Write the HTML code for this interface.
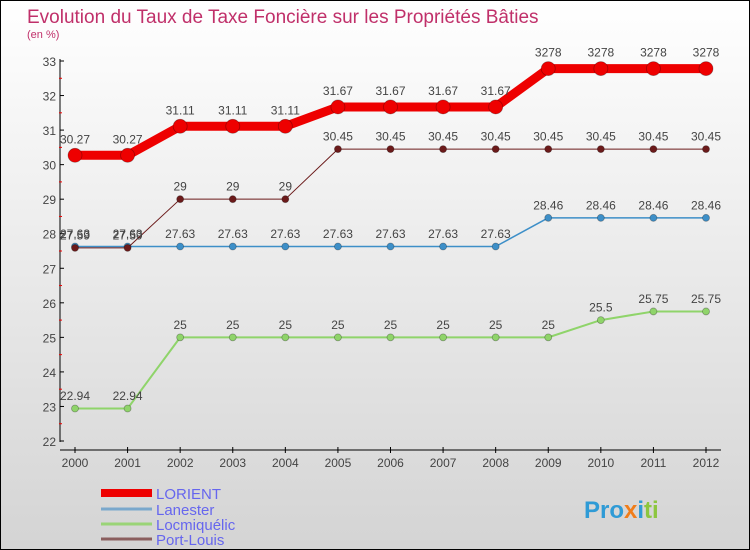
<!DOCTYPE html>
<html><head><meta charset="utf-8"><style>
body{margin:0}
#c{width:750px;height:550px;position:relative;box-sizing:border-box;border:1px solid #000;background:linear-gradient(#fff,#d4d4d4);font-family:"Liberation Sans",sans-serif;overflow:hidden}
</style></head><body>
<div id="c">
<svg id="s" width="748" height="548" style="position:absolute;left:0;top:0">
<text x="26" y="22" font-size="19" fill="#c0306a">Evolution du Taux de Taxe Foncière sur les Propriétés Bâties</text>
<text x="26" y="37" font-size="11" fill="#c0306a">(en %)</text>
</svg>
</div>
<script>
const years=["2000","2001","2002","2003","2004","2005","2006","2007","2008","2009","2010","2011","2012"];
const lorient=[30.27,30.27,31.11,31.11,31.11,31.67,31.67,31.67,31.67,32.78,32.78,32.78,32.78];
const lanester=[27.63,27.63,27.63,27.63,27.63,27.63,27.63,27.63,27.63,28.46,28.46,28.46,28.46];
const locmiquelic=[22.94,22.94,25,25,25,25,25,25,25,25,25.5,25.75,25.75];
const portlouis=[27.59,27.59,29,29,29,30.45,30.45,30.45,30.45,30.45,30.45,30.45,30.45];
const yTicks=[22,23,24,25,26,27,28,29,30,31,32,33];
const NS="http://www.w3.org/2000/svg";
const s=document.getElementById('s');
const X=i=>74+i*(705-74)/(years.length-1);
const Y=v=>440-(v-22)*(380/11);
function mk(t,a,p){const e=document.createElementNS(NS,t);for(const k in a)e.setAttribute(k,a[k]);(p||s).appendChild(e);return e;}
const ya=mk('line',{x1:59,y1:58,x2:59,y2:441,stroke:'#000'});


const xa=mk('line',{x1:59,y1:449,x2:720,y2:449,stroke:'#000'});


yTicks.forEach(v=>{
  mk('line',{x1:59,y1:Y(v),x2:63,y2:Y(v),stroke:'#000'});
  if(v<33)mk('line',{x1:58,y1:Y(v+0.5),x2:61,y2:Y(v+0.5),stroke:'#e00'});
  const t=mk('text',{x:55,y:Y(v)+5,'text-anchor':'end','font-size':12,fill:'#444'});
  t.textContent=v;
  
  
});
years.forEach((y,i)=>{
  mk('line',{x1:X(i),y1:446,x2:X(i),y2:452,stroke:'#000'});
  const t=mk('text',{x:X(i),y:466,'text-anchor':'middle','font-size':12,fill:'#444'});
  t.textContent=y;
  
  
});
function series(vals,color,w,r,name,fmt){
  const g=mk('g',{});
  
  
  mk('polyline',{points:vals.map((v,i)=>X(i)+','+Y(v)).join(' '),fill:'none',stroke:color,'stroke-width':w,'stroke-linejoin':'round'},g);
  vals.forEach((v,i)=>{
    const c=mk('circle',{cx:X(i),cy:Y(v),r:r,fill:color,stroke:'rgba(0,0,0,0.3)','stroke-width':0.8},g);
    
    
    const t=mk('text',{x:X(i),y:Y(v)-r-5,'text-anchor':'middle','font-size':12,fill:'#444'},g);
    t.textContent=fmt(v);
    
    
  });
}
const f=v=>String(v).replace('32.78','3278');
series(locmiquelic,'#8fd46a',2,3.5,'locmiquelic',f);
series(lanester,'#3d8fc8',1.5,3.5,'lanester',f);
series(portlouis,'#6b1a1a',1,3.5,'port-louis',f);
series(lorient,'#ee0000',9,7,'lorient',f);
const leg=[['LORIENT','#ee0000',8,492],['Lanester','#7aa8cc',3,508],['Locmiquélic','#9ad477',3,523],['Port-Louis','#8a5e5e',3,538]];
leg.forEach(l=>{
  const g=mk('g',{});
  
  
  mk('line',{x1:100,y1:l[3],x2:151,y2:l[3],stroke:l[1],'stroke-width':l[2]},g);
  const t=mk('text',{x:155,y:l[3]+6,'font-size':15,fill:'#6666ee'},g);
  t.textContent=l[0];
});
const lg=mk('text',{x:583,y:517,'font-size':24,'font-weight':'bold',fill:'#2f9bd6'});


lg.innerHTML='<tspan fill="#2f9bd6">Pro</tspan><tspan fill="#f07d1a">x</tspan><tspan fill="#2f9bd6">i</tspan><tspan fill="#8cc63f">ti</tspan>';
</script>
</body></html>
